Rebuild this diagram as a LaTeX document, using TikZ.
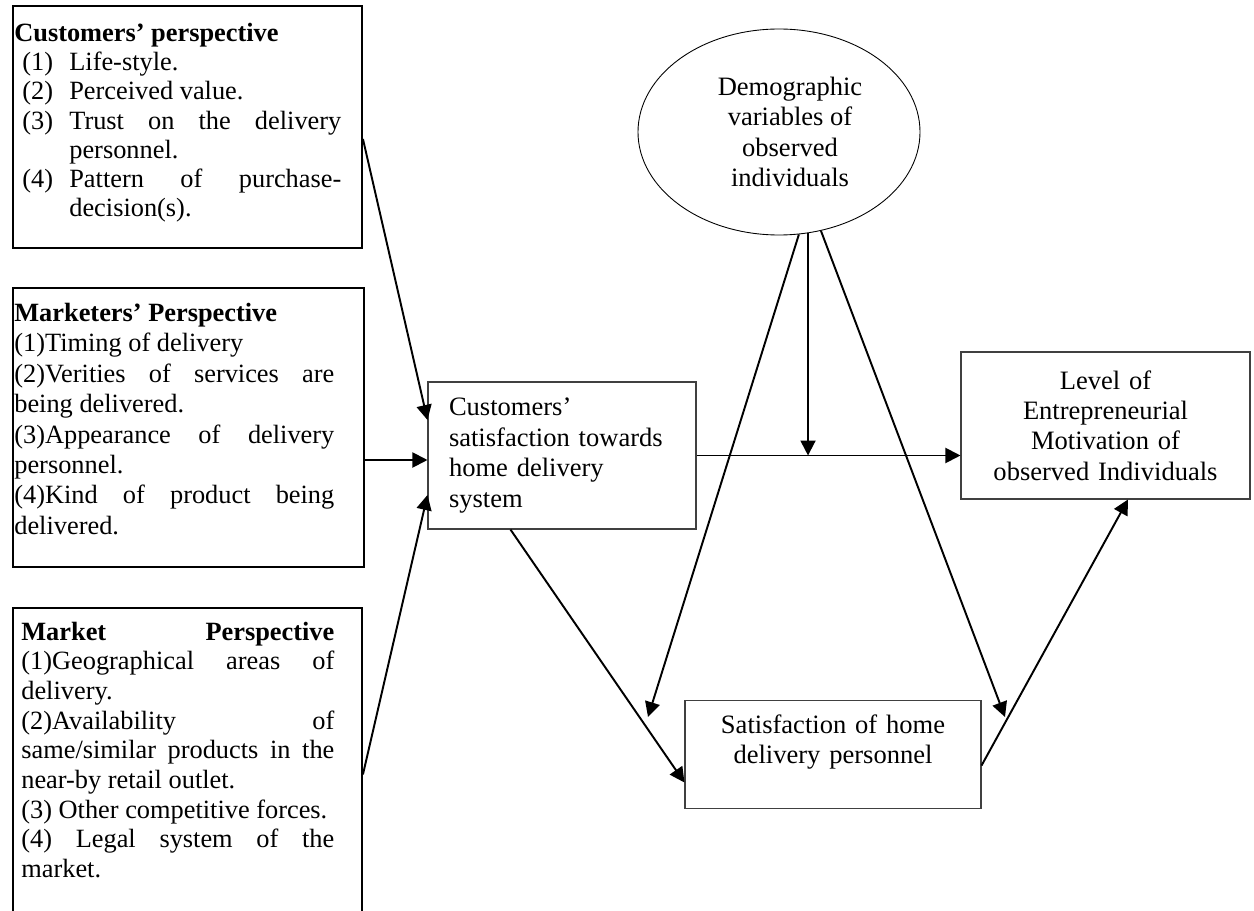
\documentclass[tikz,border=0pt]{standalone}
\usepackage{fontspec}
\setmainfont{Liberation Serif}
\usetikzlibrary{shapes}
\usetikzlibrary{arrows.meta}
\hyphenpenalty=10000

\newcommand{\itm}[2]{\par\hangindent=1.10cm\hangafter=1\noindent\hspace*{0.16cm}\makebox[0.94cm][l]{#1}#2\par}

\begin{document}
\begin{tikzpicture}[
  frame/.style={draw, line width=1.1pt, inner sep=0, anchor=north west},
  txt/.style={anchor=base west, inner sep=0, align=justify, font=\fontsize{15}{16.6}\selectfont},
  box/.style={draw=black!75, line width=0.6pt, font=\fontsize{15.1}{17.3}\selectfont},
  arr/.style={line width=1.1pt, -{Triangle[length=0.3cm,width=0.3cm]}}
]
\useasboundingbox (0,0) rectangle (25.08,-18.22);
\clip (0,0) rectangle (25.08,-18.22);

%LEFT BOXES
%Customers
\node[frame, minimum width=6.98cm, minimum height=4.84cm] (cust) at (0.24,-0.10) {};
\node[txt, text width=6.54cm] (custText) at (0.28,-0.83) {
\textbf{Customers’ perspective}\par
\itm{(1)}{Life-style.}
\itm{(2)}{Perceived value.}
\itm{(3)}{Trust on the delivery\linebreak personnel.}
\itm{(4)}{Pattern of purchase-\linebreak decision(s).}};

%Marketers
\node[frame, minimum width=7.02cm, minimum height=5.58cm] (mkt) at (0.24,-5.74) {};
\node[txt, text width=6.40cm, font=\fontsize{15}{17.3}\selectfont] (mktText) at (0.28,-6.43) {
\textbf{Marketers’ Perspective}\par
(1)Timing of delivery\par
(2)Verities of services are\linebreak being delivered.\par
(3)Appearance of delivery\linebreak personnel.\par
(4)Kind of product being\linebreak delivered.};

%Market
\node[frame, minimum width=6.98cm, minimum height=6.66cm] (market) at (0.24,-12.14) {};
\node[txt, text width=6.26cm, font=\fontsize{15}{16.9}\selectfont] (marketText) at (0.42,-12.80) {
\textbf{Market Perspective}\linebreak (1)Geographical areas of\linebreak delivery.\par
(2)Availability of\linebreak same/similar products in the\linebreak near-by retail outlet.\par
(3) Other competitive forces.\par
(4) Legal system of the\linebreak market.};

%CENTRE AND RIGHT
\node[box, minimum width=5.36cm, minimum height=2.94cm, text width=4.52cm, align=left] (custsat) at (11.24,-9.11)
  {Customers’\\satisfaction towards\\home delivery\\system};
\node[draw, ellipse, line width=0.5pt, inner sep=0, minimum width=5.64cm, minimum height=4.12cm] (demog) at (15.58,-2.64) {};
\node[align=center, inner sep=0, font=\fontsize{15.1}{17.3}\selectfont] (demogText) at ([xshift=0.22cm]demog.center)
  {Demographic\\variables of\\observed\\individuals};
\node[box, minimum width=5.78cm, minimum height=2.94cm, text width=5.3cm, align=center] (level) at (22.11,-8.51)
  {Level of\\Entrepreneurial\\Motivation of\\observed Individuals};
\node[box, anchor=north, minimum width=5.92cm, inner ysep=0, text height=0.66cm, text depth=1.50cm,
  text width=5.2cm, align=center] (satisf) at (16.66,-14.00)
  {Satisfaction of home\\delivery personnel};

%Arrows
\draw[arr] ([yshift=-0.24cm]cust.east) -- ([yshift=0.71cm]custsat.west);
\coordinate (in2) at ([yshift=-0.09cm]custsat.west);
\draw[arr] (mkt.east |- in2) -- (in2);
\draw[arr] (market.east) -- ([yshift=-0.79cm]custsat.west);
\draw[arr] (custsat.east) -- (custsat.east -| level.west);
\coordinate (jn) at (demog.-74 |- custsat.east);
\draw[arr] (demog.-74) -- (jn);
\coordinate (tipL) at (12.96,-14.34);
\coordinate (tipR) at (20.10,-14.34);
\draw[arr] (demog.-79) -- (tipL);
\draw[arr] (demog.-67) -- (tipR);
\draw[arr] ([xshift=1.66cm]custsat.south west) -- ([yshift=-0.56cm]satisf.west);
\draw[arr] ([yshift=-0.22cm]satisf.east) -- ([xshift=0.45cm]level.south);

\end{tikzpicture}
\end{document}
